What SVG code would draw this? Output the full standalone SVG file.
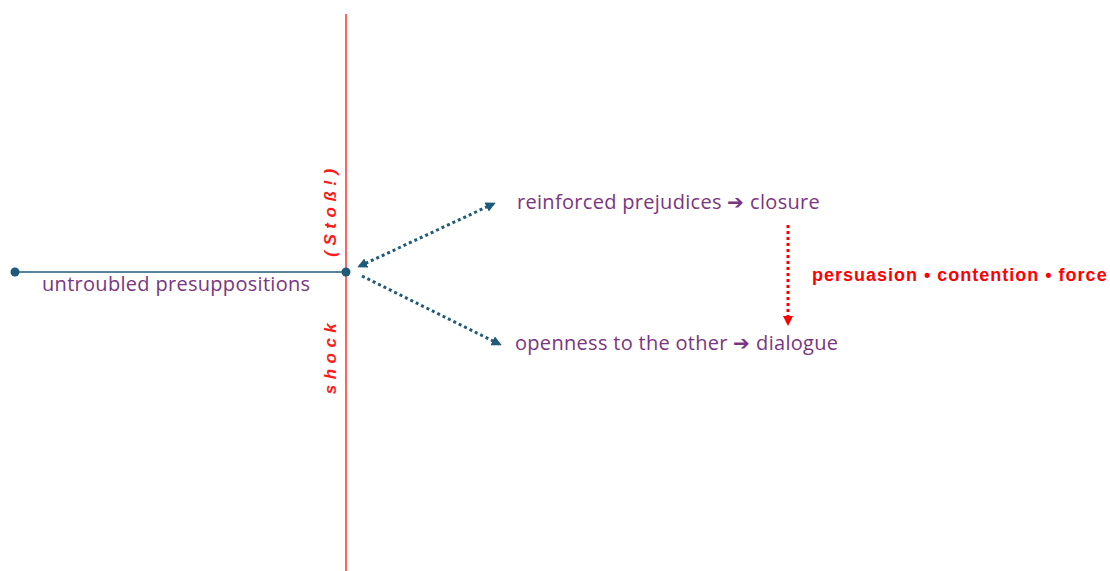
<svg xmlns="http://www.w3.org/2000/svg" width="1110" height="571" viewBox="0 0 1110 571">
<style>
.lbl{font-family:"Open Sans","Liberation Sans",sans-serif;font-size:20px;fill:#7a3581;letter-spacing:0.3px}
.rot{font-family:"Liberation Sans",sans-serif;font-size:17px;font-weight:bold;font-style:italic;fill:#ff1a1a;letter-spacing:5.5px}
.red{font-family:"Liberation Sans",sans-serif;font-size:18px;font-weight:bold;fill:#ff0000;letter-spacing:1px}
.dot{fill:#1f5a78}
</style>
<defs>
<marker id="ah" markerWidth="10" markerHeight="10" refX="7" refY="5" orient="auto-start-reverse" markerUnits="userSpaceOnUse">
<path d="M0,0 L10,5 L0,10 Z" fill="#1f5a78"/>
</marker>
<marker id="ahr" markerWidth="10" markerHeight="10" refX="7" refY="5" orient="auto" markerUnits="userSpaceOnUse">
<path d="M0,0 L10,5 L0,10 Z" fill="#ff0000"/>
</marker>
</defs>
<g id="axis">
<line x1="346" y1="14" x2="346" y2="571" stroke="#ff3030" stroke-width="1.5"/>
</g>
<g id="connectors">
<line x1="15" y1="272" x2="346" y2="272" stroke="#1f5a78" stroke-width="1.6"/>
<line x1="360" y1="266" x2="493" y2="204" stroke="#1f5a78" stroke-width="3" stroke-dasharray="3,3" marker-start="url(#ah)" marker-end="url(#ah)"/>
<line x1="362" y1="276" x2="499" y2="344" stroke="#1f5a78" stroke-width="3" stroke-dasharray="3,3" marker-end="url(#ah)"/>
<line x1="788" y1="225" x2="788" y2="323" stroke="#ff0000" stroke-width="3" stroke-dasharray="3,3" marker-end="url(#ahr)"/>
</g>
<g id="start">
<circle class="dot" cx="15" cy="272" r="4.5"/>
<text class="lbl" x="42" y="291">untroubled presuppositions</text>
</g>
<g id="shock">
<circle class="dot" cx="346" cy="272" r="4.5"/>
<text class="rot" transform="translate(336,210) rotate(-90)" text-anchor="middle">(Stoß!)</text>
<text class="rot" transform="translate(336,356) rotate(-90)" text-anchor="middle">shock</text>
</g>
<g id="closure">
<text class="lbl" x="517" y="209">reinforced prejudices ➔ closure</text>
</g>
<g id="dialogue">
<text class="lbl" x="515" y="350">openness to the other ➔ dialogue</text>
</g>
<g id="forces">
<text class="red" x="812" y="281">persuasion • contention • force</text>
</g>
</svg>
